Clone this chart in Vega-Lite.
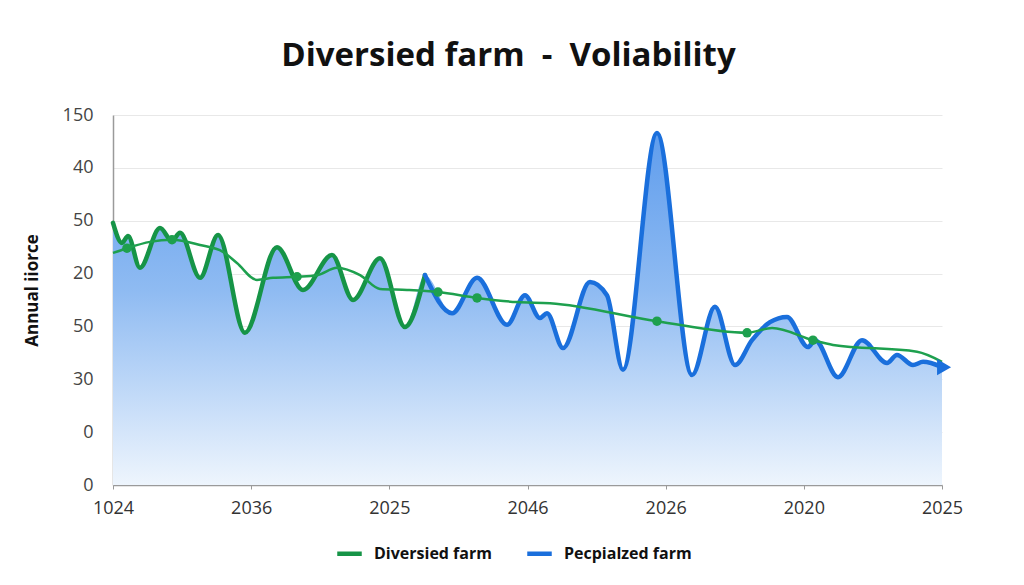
{
  "$schema": "https://vega.github.io/schema/vega-lite/v6.json",
  "width": 829,
  "height": 370,
  "autosize": {"type": "none"},
  "padding": {"left": 113, "top": 115, "right": 82, "bottom": 100},
  "background": "white",
  "title": {
    "text": "Diversied farm \u00a0-\u00a0 Voliability",
    "font": "Open Sans",
    "fontSize": 33,
    "fontWeight": "bold",
    "color": "#111111",
    "anchor": "middle",
    "dx": -19,
    "offset": 33
  },
  "config": {
    "view": {"stroke": null},
    "font": "Open Sans"
  },
  "datasets": {
    "main": [
      {"x": 0, "y": 49.6, "series": "Diversied farm"},
      {"x": 0.65, "y": 45.8, "series": "Diversied farm"},
      {"x": 1.09, "y": 47.1, "series": "Diversied farm"},
      {"x": 1.95, "y": 41.1, "series": "Diversied farm"},
      {"x": 3.4, "y": 48.6, "series": "Diversied farm"},
      {"x": 4.27, "y": 46.2, "series": "Diversied farm"},
      {"x": 4.85, "y": 47.7, "series": "Diversied farm"},
      {"x": 6.3, "y": 39.2, "series": "Diversied farm"},
      {"x": 7.6, "y": 47.3, "series": "Diversied farm"},
      {"x": 9.55, "y": 28.8, "series": "Diversied farm"},
      {"x": 11.87, "y": 45.0, "series": "Diversied farm"},
      {"x": 13.75, "y": 36.9, "series": "Diversied farm"},
      {"x": 15.85, "y": 43.5, "series": "Diversied farm"},
      {"x": 17.37, "y": 35.0, "series": "Diversied farm"},
      {"x": 19.32, "y": 42.9, "series": "Diversied farm"},
      {"x": 21.13, "y": 29.9, "series": "Diversied farm"},
      {"x": 22.58, "y": 39.7, "series": "Diversied farm"},
      {"x": 22.58, "y": 39.7, "series": "Pecpialzed farm"},
      {"x": 24.54, "y": 32.5, "series": "Pecpialzed farm"},
      {"x": 26.35, "y": 39.2, "series": "Pecpialzed farm"},
      {"x": 28.52, "y": 30.3, "series": "Pecpialzed farm"},
      {"x": 29.82, "y": 35.9, "series": "Pecpialzed farm"},
      {"x": 30.9, "y": 31.6, "series": "Pecpialzed farm"},
      {"x": 31.41, "y": 32.5, "series": "Pecpialzed farm"},
      {"x": 32.57, "y": 25.9, "series": "Pecpialzed farm"},
      {"x": 34.52, "y": 38.4, "series": "Pecpialzed farm"},
      {"x": 35.75, "y": 35.9, "series": "Pecpialzed farm"},
      {"x": 36.91, "y": 21.8, "series": "Pecpialzed farm"},
      {"x": 39.37, "y": 66.6, "series": "Pecpialzed farm"},
      {"x": 41.91, "y": 20.8, "series": "Pecpialzed farm"},
      {"x": 43.57, "y": 33.7, "series": "Pecpialzed farm"},
      {"x": 45.02, "y": 22.7, "series": "Pecpialzed farm"},
      {"x": 46.25, "y": 27.4, "series": "Pecpialzed farm"},
      {"x": 47.55, "y": 30.8, "series": "Pecpialzed farm"},
      {"x": 48.78, "y": 31.8, "series": "Pecpialzed farm"},
      {"x": 50.3, "y": 26.1, "series": "Pecpialzed farm"},
      {"x": 50.81, "y": 27.4, "series": "Pecpialzed farm"},
      {"x": 52.47, "y": 20.4, "series": "Pecpialzed farm"},
      {"x": 54.21, "y": 27.4, "series": "Pecpialzed farm"},
      {"x": 56.02, "y": 23.1, "series": "Pecpialzed farm"},
      {"x": 56.74, "y": 24.6, "series": "Pecpialzed farm"},
      {"x": 57.9, "y": 22.7, "series": "Pecpialzed farm"},
      {"x": 58.63, "y": 23.3, "series": "Pecpialzed farm"},
      {"x": 60, "y": 22.3, "series": "Pecpialzed farm"}
    ],
    "trend": [
      {"x": 0, "y": 43.9, "dot": 0},
      {"x": 1.01, "y": 44.8, "dot": 1},
      {"x": 2.68, "y": 46.0, "dot": 0},
      {"x": 4.27, "y": 46.4, "dot": 1},
      {"x": 6.3, "y": 45.4, "dot": 0},
      {"x": 7.96, "y": 44.1, "dot": 0},
      {"x": 8.97, "y": 42.0, "dot": 0},
      {"x": 10.42, "y": 38.8, "dot": 0},
      {"x": 11.58, "y": 39.2, "dot": 0},
      {"x": 13.32, "y": 39.4, "dot": 1},
      {"x": 14.77, "y": 39.7, "dot": 0},
      {"x": 16.21, "y": 41.1, "dot": 0},
      {"x": 17.88, "y": 39.7, "dot": 0},
      {"x": 19.32, "y": 37.1, "dot": 0},
      {"x": 21.28, "y": 36.9, "dot": 0},
      {"x": 23.52, "y": 36.5, "dot": 1},
      {"x": 26.35, "y": 35.4, "dot": 1},
      {"x": 29.24, "y": 34.6, "dot": 0},
      {"x": 31.63, "y": 34.4, "dot": 0},
      {"x": 39.37, "y": 31.0, "dot": 1},
      {"x": 45.89, "y": 28.8, "dot": 1},
      {"x": 47.7, "y": 29.7, "dot": 0},
      {"x": 50.66, "y": 27.4, "dot": 1},
      {"x": 52.11, "y": 26.5, "dot": 0},
      {"x": 58.19, "y": 25.2, "dot": 0},
      {"x": 60, "y": 23.3, "dot": 0}
    ],
    "arrow": [
      {"x": 60.15, "y": 22.3}
    ]
  },
  "encoding": {
    "x": {
      "field": "x",
      "type": "quantitative",
      "scale": {"domain": [0, 60], "nice": false, "zero": false},
      "axis": {
        "title": null,
        "values": [0, 10, 20, 30, 40, 50, 60],
        "labelExpr": "['1024','2036','2025','2046','2026','2020','2025'][round(datum.value/10)]",
        "grid": false,
        "domainColor": "#9a9a9a",
        "domainWidth": 1.5,
        "tickColor": "#9a9a9a",
        "tickSize": 4,
        "labelFont": "Open Sans",
        "labelFontSize": 18,
        "labelColor": "#333333",
        "labelPadding": 10,
        "labelFlush": false
      }
    },
    "y": {
      "field": "y",
      "type": "quantitative",
      "scale": {"domain": [0, 70], "nice": false, "zero": true},
      "axis": {
        "title": "Annual iiorce",
        "titleFont": "Open Sans",
        "titleFontSize": 17,
        "titleFontWeight": "bold",
        "titleColor": "#111111",
        "titleAngle": -90,
        "titleX": -72,
        "titleY": 175,
        "titleAlign": "center",
        "titleBaseline": "bottom",
        "values": [0, 10, 20, 30, 40, 50, 60, 70],
        "labelExpr": "['0','0','30','50','20','50','40','150'][round(datum.value/10)]",
        "grid": true,
        "gridColor": "#e8e8e8",
        "gridWidth": 1,
        "domainColor": "#9a9a9a",
        "domainWidth": 1.5,
        "ticks": false,
        "labelFont": "Open Sans",
        "labelFontSize": 18,
        "labelColor": "#444444",
        "labelPadding": 20
      }
    }
  },
  "layer": [
    {
      "data": {"name": "main"},
      "mark": {
        "type": "area",
        "interpolate": "monotone",
        "opacity": 1,
        "fill": {
          "x1": 0, "y1": 0, "x2": 0, "y2": 1,
          "gradient": "linear",
          "stops": [
            {"offset": 0, "color": "#5f9ded"},
            {"offset": 0.45, "color": "#8fbbf2"},
            {"offset": 1, "color": "#eef5fd"}
          ]
        }
      },
      "encoding": {
        "y": {"field": "y", "type": "quantitative", "stack": null}
      }
    },
    {
      "data": {"name": "main"},
      "mark": {"type": "line", "interpolate": "monotone", "strokeWidth": 4.5, "strokeCap": "round", "strokeJoin": "round"},
      "encoding": {
        "color": {
          "field": "series",
          "type": "nominal",
          "scale": {"domain": ["Diversied farm", "Pecpialzed farm"], "range": ["#169447", "#1a6fdc"]},
          "legend": {
            "title": null,
            "orient": "none",
            "direction": "horizontal",
            "legendX": 222,
            "legendY": 424,
            "symbolType": "stroke",
            "symbolStrokeWidth": 4.5,
            "symbolSize": 600,
            "labelFont": "Open Sans",
            "labelFontSize": 16,
            "labelFontWeight": "bold",
            "labelColor": "#111111",
            "columnPadding": 26,
            "labelOffset": 10
          }
        }
      }
    },
    {
      "data": {"name": "trend"},
      "mark": {"type": "line", "interpolate": "monotone", "strokeWidth": 2.5, "color": "#1ea04e"}
    },
    {
      "data": {"name": "trend"},
      "transform": [{"filter": "datum.dot == 1"}],
      "mark": {"type": "point", "filled": true, "size": 90, "opacity": 1, "color": "#1ea04e"}
    },
    {
      "data": {"name": "arrow"},
      "mark": {"type": "point", "shape": "triangle-right", "filled": true, "size": 260, "opacity": 1, "color": "#1a6fdc"}
    }
  ]
}
